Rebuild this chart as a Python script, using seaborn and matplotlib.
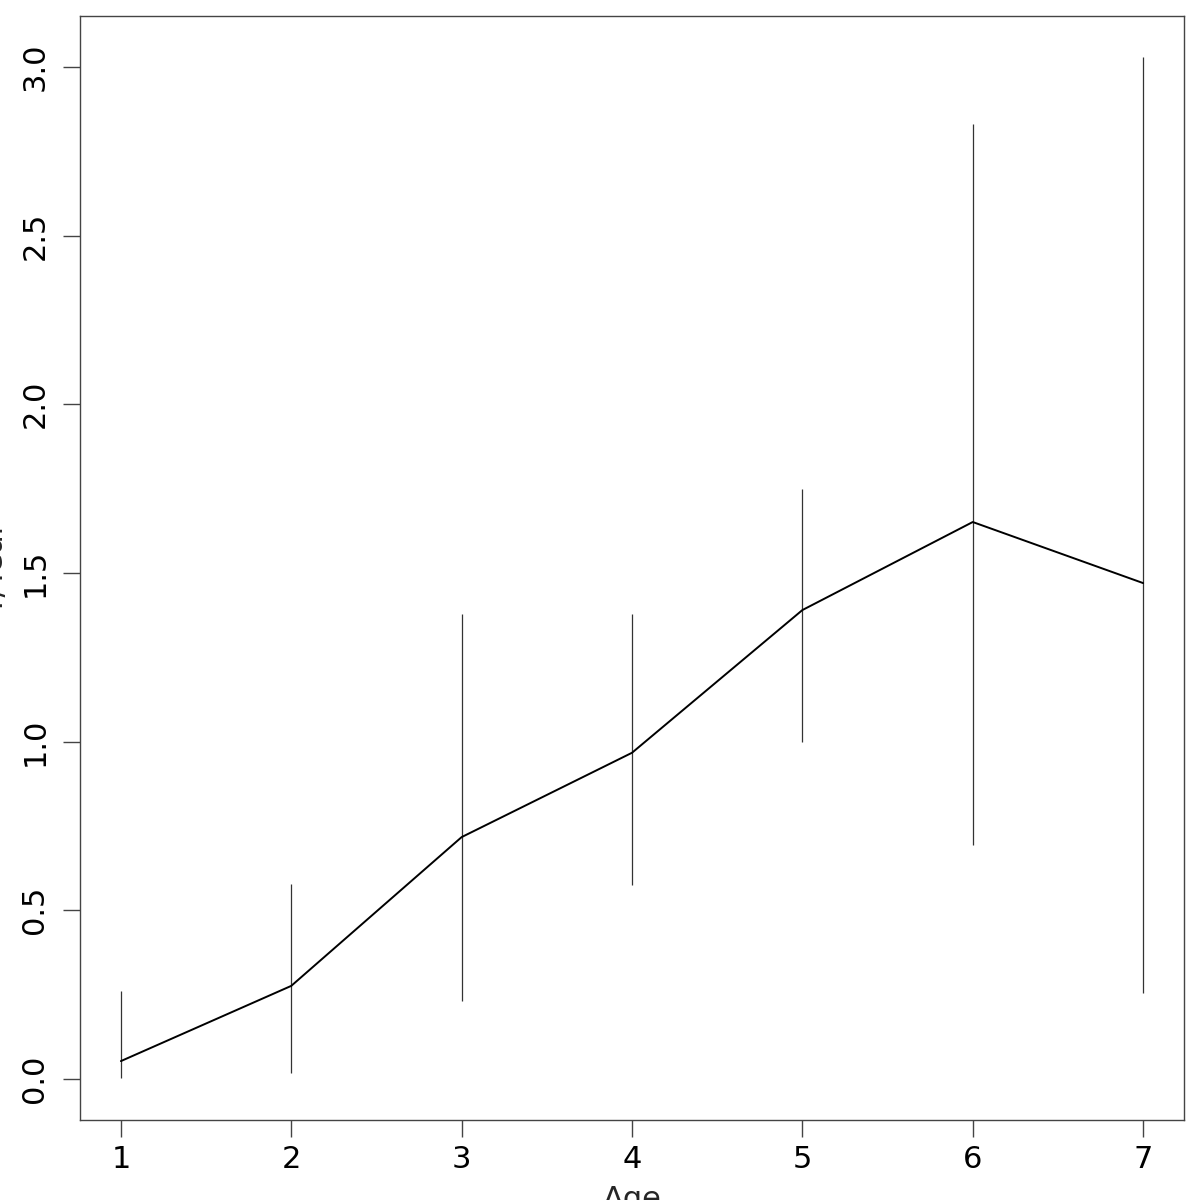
import matplotlib
matplotlib.use("Agg")
import matplotlib.pyplot as plt
import pandas as pd
import seaborn as sns

# Data
age = [1, 2, 3, 4, 5, 6, 7]
mean_rate = [0.053, 0.276, 0.717, 0.967, 1.390, 1.651, 1.470]
lower = [0.002, 0.018, 0.231, 0.575, 0.999, 0.694, 0.255]
upper = [0.261, 0.578, 1.379, 1.379, 1.749, 2.831, 3.030]

df = pd.DataFrame({"Age": age, "rate": mean_rate, "lo": lower, "hi": upper})

sns.set_style("ticks")
plt.rcParams["font.family"] = ["DejaVu Sans"]

fig, ax = plt.subplots(figsize=(12, 12), dpi=100)
fig.subplots_adjust(left=80 / 1200, right=1184 / 1200, top=1 - 16 / 1200, bottom=1 - 1120 / 1200)

# error bars as thin vertical segments
ax.vlines(df["Age"], df["lo"], df["hi"], color="#333333", linewidth=0.9)
sns.lineplot(data=df, x="Age", y="rate", color="black", linewidth=1.4, ax=ax)

ax.set_xlim(0.76, 7.24)
ax.set_ylim(-0.1216, 3.151)
ax.set_xticks(age)
ax.set_yticks([0.0, 0.5, 1.0, 1.5, 2.0, 2.5, 3.0])
ax.set_yticklabels(["0.0", "0.5", "1.0", "1.5", "2.0", "2.5", "3.0"], rotation=90, va="center")

for s in ax.spines.values():
    s.set_visible(True)
    s.set_color("#444444")
    s.set_linewidth(1.0)

ax.tick_params(axis="both", direction="out", length=12, width=1.0, color="#444444",
               labelsize=22, labelcolor="black")
ax.tick_params(axis="x", pad=6)
ax.tick_params(axis="y", pad=10)

ax.set_xlabel("Age", fontsize=22)
ax.set_ylabel("Y/Year", fontsize=22)
ax.xaxis.set_label_coords(0.5, -0.0585)
ax.yaxis.set_label_coords(-0.064, 0.5)

fig.savefig("out.png", dpi=100)
